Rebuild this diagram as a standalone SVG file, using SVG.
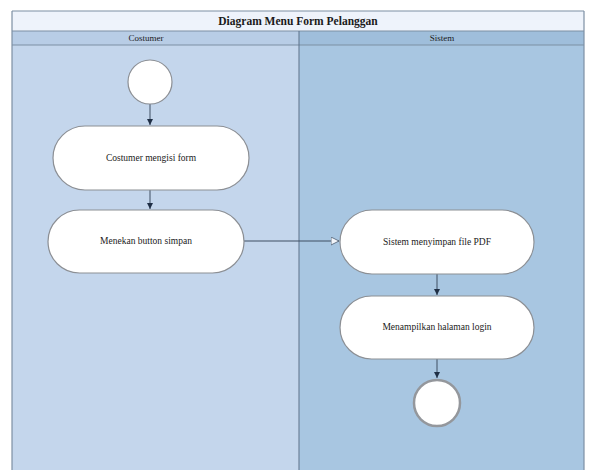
<svg xmlns="http://www.w3.org/2000/svg" width="589" height="470" viewBox="0 0 589 470">
  <style>
    .lbl { font-family: "Liberation Serif", "Times New Roman", serif; fill: #1a1a1a; text-anchor: middle; }
    .title { font-size: 11.5px; font-weight: bold; }
    .lane { font-size: 9px; }
    .act { font-size: 9.5px; }
    .node { fill: #ffffff; stroke: #8c8f94; stroke-width: 1.2; }
    .edge { fill: none; stroke: #3e4f63; stroke-width: 1; }
    .frame { stroke: #7d8fa3; stroke-width: 1.2; }
  </style>
  <defs>
    <marker id="arrowSolid" markerWidth="8" markerHeight="8" refX="6" refY="3" orient="auto" markerUnits="userSpaceOnUse">
      <path d="M0,0 L6,3 L0,6 Z" fill="#1f2f45"/>
    </marker>
    <marker id="arrowOpen" markerWidth="10" markerHeight="10" refX="8" refY="4" orient="auto" markerUnits="userSpaceOnUse">
      <path d="M0,0 L8,4 L0,8 Z" fill="#f2f5fa" stroke="#4b5c70" stroke-width="0.8"/>
    </marker>
  </defs>

  <rect width="589" height="470" fill="#ffffff"/>

  <!-- swimlane frame -->
  <g id="swimlanes">
    <rect x="12" y="45" width="287" height="425" fill="#c4d6ec"/>
    <rect x="299" y="45" width="285" height="425" fill="#a8c6e1"/>
    <rect x="12" y="11" width="572" height="20" fill="#eef3fb"/>
    <rect x="12" y="31" width="287" height="14" fill="#b8cde6"/>
    <rect x="299" y="31" width="285" height="14" fill="#9fbedb"/>
    <line class="frame" x1="12" y1="11" x2="584" y2="11"/>
    <line class="frame" x1="12" y1="11" x2="12" y2="470"/>
    <line class="frame" x1="584" y1="11" x2="584" y2="470"/>
    <line class="frame" x1="12" y1="31" x2="584" y2="31"/>
    <line class="frame" x1="12" y1="45" x2="584" y2="45"/>
    <line x1="299" y1="31" x2="299" y2="470" stroke="#5d7189" stroke-width="1"/>
    <text class="lbl title" x="298" y="25">Diagram Menu Form Pelanggan</text>
    <text class="lbl lane" x="146" y="41">Costumer</text>
    <text class="lbl lane" x="442" y="41">Sistem</text>
  </g>

  <!-- connectors -->
  <g id="connectors">
    <line class="edge" x1="150" y1="104" x2="150" y2="125" marker-end="url(#arrowSolid)"/>
    <line class="edge" x1="150" y1="190" x2="150" y2="209" marker-end="url(#arrowSolid)"/>
    <line class="edge" x1="244" y1="241" x2="339" y2="241" marker-end="url(#arrowOpen)"/>
    <line class="edge" x1="437" y1="274" x2="437" y2="295" marker-end="url(#arrowSolid)"/>
    <line class="edge" x1="437" y1="359" x2="437" y2="378" marker-end="url(#arrowSolid)"/>
  </g>

  <!-- start node -->
  <g id="start">
    <circle class="node" cx="150" cy="82" r="22"/>
  </g>

  <g id="costumer-mengisi-form">
    <rect class="node" x="53" y="126" width="196" height="64" rx="32" ry="32"/>
    <text class="lbl act" x="151" y="161">Costumer mengisi form</text>
  </g>

  <g id="menekan-button-simpan">
    <rect class="node" x="48" y="210" width="196" height="63" rx="31.5" ry="31.5"/>
    <text class="lbl act" x="146" y="244">Menekan button simpan</text>
  </g>

  <g id="sistem-menyimpan-file">
    <rect class="node" x="340" y="210" width="194" height="64" rx="32" ry="32"/>
    <text class="lbl act" x="437" y="245">Sistem menyimpan file PDF</text>
  </g>

  <g id="menampilkan-halaman-login">
    <rect class="node" x="340" y="296" width="194" height="63" rx="31.5" ry="31.5"/>
    <text class="lbl act" x="437" y="330">Menampilkan halaman login</text>
  </g>

  <!-- end node -->
  <g id="end">
    <circle cx="437" cy="403" r="23" fill="#ffffff" stroke="#94979c" stroke-width="2.5"/>
  </g>
</svg>
